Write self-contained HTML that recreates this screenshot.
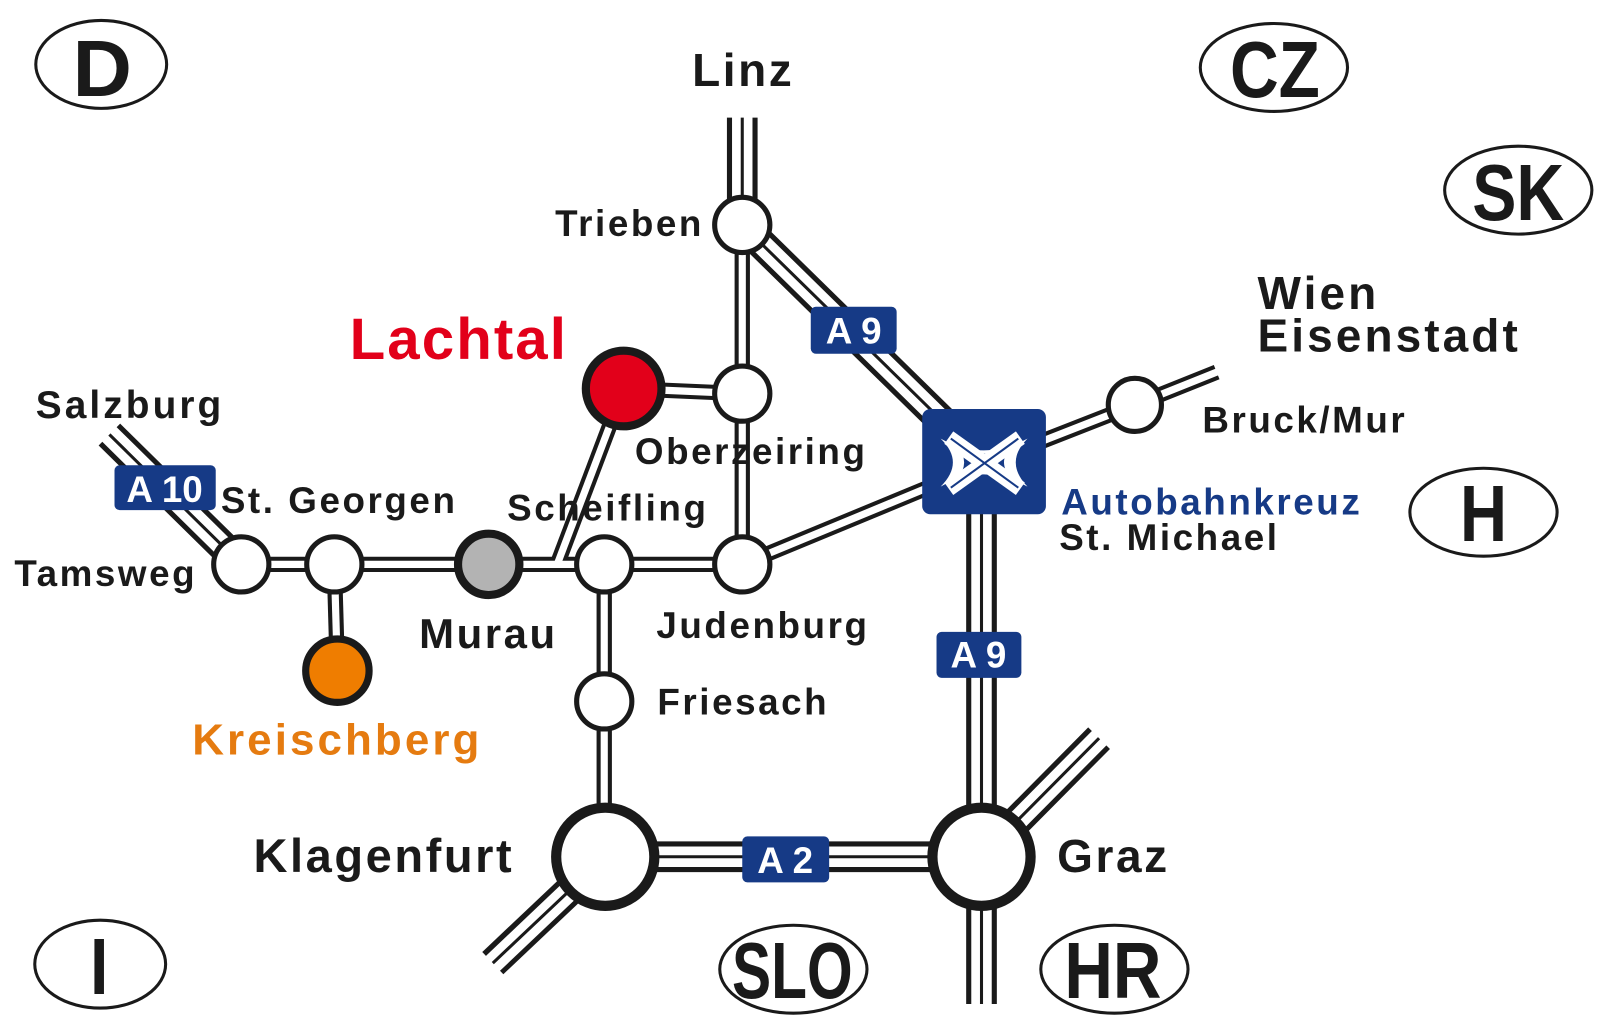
<!DOCTYPE html>
<html><head><meta charset="utf-8"><style>
html,body{margin:0;padding:0;background:#fff}
svg{display:block}
text{font-family:"Liberation Sans",sans-serif;font-weight:bold}
</style></head><body>
<svg width="1600" height="1031" viewBox="0 0 1600 1031" xmlns="http://www.w3.org/2000/svg">
<g transform="scale(1.0224)">
<!-- triple roads -->
<g fill="none" stroke-linecap="butt">
<g stroke="#1a1a1a" stroke-width="30">
<path d="M726 115 L726 220"/>
<path d="M726 220 L925 415"/>
<path d="M960 500 L960 838"/>
<path d="M960 838 L960 982"/>
<path d="M960 838 L1075 722"/>
<path d="M592 838 L482 942"/>
<path d="M592 838 L960 838"/>
<path d="M107 425 L236 552"/>
</g>
<g stroke="#fff" stroke-width="20">
<path d="M726 110 L726 220"/>
<path d="M726 220 L925 415"/>
<path d="M960 500 L960 838"/>
<path d="M960 838 L960 990"/>
<path d="M960 838 L1082 715"/>
<path d="M592 838 L475 949"/>
<path d="M592 838 L960 838"/>
<path d="M100 418 L236 552"/>
</g>
<g stroke="#1a1a1a" stroke-width="3">
<path d="M726 115 L726 220"/>
<path d="M726 220 L925 415"/>
<path d="M960 500 L960 838"/>
<path d="M960 838 L960 982"/>
<path d="M960 838 L1075 722"/>
<path d="M592 838 L482 942"/>
<path d="M592 838 L960 838"/>
<path d="M107 425 L236 552"/>
</g>
</g>
<!-- double roads -->
<g fill="none">
<g stroke="#1a1a1a" stroke-width="15">
<path d="M726 220 L726 552"/>
<path d="M610 380 L726 385"/>
<path d="M598 412 L545 552"/>
<path d="M726 552 L905 478"/>
<path d="M1018 432 L1110 396 L1190 364"/>
<path d="M236 552 L726 552"/>
<path d="M591 552 L591 838"/>
<path d="M327 552 L330 656"/>
</g>
<g stroke="#fff" stroke-width="7">
<path d="M726 220 L726 552"/>
<path d="M610 380 L726 385"/>
<path d="M598 412 L545 552"/>
<path d="M726 552 L905 478"/>
<path d="M1018 432 L1110 396 L1195 362"/>
<path d="M236 552 L726 552"/>
<path d="M591 552 L591 838"/>
<path d="M327 552 L330 656"/>
</g>
</g>
<!-- nodes -->
<g stroke="#1a1a1a" stroke-width="5" fill="#fff">
<circle cx="726" cy="220" r="27"/>
<circle cx="726" cy="385" r="27"/>
<circle cx="726" cy="552" r="27"/>
<circle cx="591" cy="552" r="27"/>
<circle cx="591" cy="686" r="27"/>
<circle cx="236" cy="552" r="27"/>
<circle cx="327" cy="552" r="27"/>
<circle cx="1110" cy="396" r="26"/>
<circle cx="478" cy="552" r="30" fill="#b3b3b3" stroke-width="8"/>
<circle cx="610" cy="380" r="37" fill="#e2001a" stroke-width="8"/>
<circle cx="330" cy="656" r="31" fill="#ef7d00" stroke-width="7"/>
<circle cx="592" cy="838" r="48" stroke-width="10"/>
<circle cx="960" cy="838" r="48" stroke-width="10"/>
</g>
<!-- autobahnkreuz -->
<rect x="902" y="400" width="121" height="103" rx="8" fill="#163a86"/>
<path d="M920 429 Q962 452 1005 429 Q982 452 1005 476 Q962 452 920 476 Q944 452 920 429 Z" fill="#fff"/>
<path d="M936 436 Q962 451 990 436 Q974 452 990 469 Q962 454 936 469 Q950 452 936 436 Z" fill="#163a86"/>
<g stroke="#fff" stroke-width="15" fill="none">
<path d="M928 428 L998 478"/>
<path d="M998 428 L928 478"/>
</g>
<g stroke="#163a86" stroke-width="2" fill="none">
<path d="M930 429 L996 477"/>
<path d="M996 429 L930 477"/>
</g>
<!-- motorway shields -->
<g fill="#163a86">
<rect x="793" y="300" width="84" height="46" rx="5"/>
<rect x="916" y="618" width="83" height="45" rx="5"/>
<rect x="726" y="818" width="85" height="45" rx="5"/>
<rect x="112" y="455" width="99" height="44" rx="5"/>
</g>
<g fill="#fff" font-size="36" text-anchor="middle">
<text x="835" y="336">A 9</text>
<text x="957" y="653">A 9</text>
<text x="768" y="854">A 2</text>
<text x="161" y="491">A 10</text>
</g>
<!-- country ovals -->
<g fill="none" stroke="#1a1a1a" stroke-width="3">
<ellipse cx="99" cy="63" rx="64" ry="43"/>
<ellipse cx="1246" cy="66" rx="72" ry="43"/>
<ellipse cx="1485" cy="186" rx="72" ry="43"/>
<ellipse cx="1451" cy="501" rx="72" ry="43"/>
<ellipse cx="98" cy="943" rx="64" ry="43"/>
<ellipse cx="776" cy="948" rx="72" ry="43"/>
<ellipse cx="1090" cy="948" rx="72" ry="43"/>
</g>
<g fill="#1a1a1a" font-size="78" lengthAdjust="spacingAndGlyphs">
<text x="71" y="94" textLength="58" lengthAdjust="spacingAndGlyphs">D</text>
<text x="1203" y="95" textLength="88" lengthAdjust="spacingAndGlyphs">CZ</text>
<text x="1440" y="215" textLength="90" lengthAdjust="spacingAndGlyphs">SK</text>
<text x="1428" y="529" textLength="46" lengthAdjust="spacingAndGlyphs">H</text>
<text x="88" y="972" textLength="18" lengthAdjust="spacingAndGlyphs">I</text>
<text x="716" y="976" textLength="118" lengthAdjust="spacingAndGlyphs">SLO</text>
<text x="1041" y="976" textLength="95" lengthAdjust="spacingAndGlyphs">HR</text>
</g>
<!-- labels -->
<g fill="#1a1a1a" font-size="36" letter-spacing="2.5">
<text x="677" y="84" font-size="45">Linz</text>
<text x="543" y="231">Trieben</text>
<text x="1230" y="302" font-size="45" letter-spacing="3">Wien</text>
<text x="1230" y="344" font-size="45" letter-spacing="3">Eisenstadt</text>
<text x="1176" y="423">Bruck/Mur</text>
<text x="35" y="409" font-size="38" letter-spacing="3">Salzburg</text>
<text x="621" y="454">Oberzeiring</text>
<text x="216" y="502">St. Georgen</text>
<text x="496" y="509">Scheifling</text>
<text x="14" y="573">Tamsweg</text>
<text x="410" y="634" font-size="41">Murau</text>
<text x="642" y="624">Judenburg</text>
<text x="643" y="699">Friesach</text>
<text x="1036" y="538">St. Michael</text>
<text x="248" y="853" font-size="46">Klagenfurt</text>
<text x="1034" y="853" font-size="45">Graz</text>
</g>
<text x="342" y="351" font-size="57" fill="#e2001a" letter-spacing="2">Lachtal</text>
<text x="188" y="738" font-size="43" fill="#e57b10" letter-spacing="3">Kreischberg</text>
<text x="1038" y="503" font-size="36" fill="#163a86" letter-spacing="2.5">Autobahnkreuz</text>
</g>
</svg>
</body></html>
